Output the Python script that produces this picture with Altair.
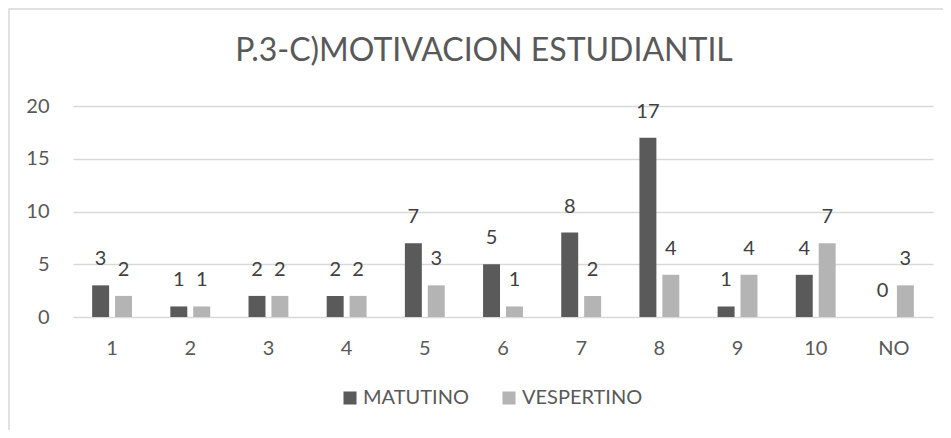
import altair as alt
import pandas as pd

categories = ["1", "2", "3", "4", "5", "6", "7", "8", "9", "10", "NO"]
matutino = [3, 1, 2, 2, 7, 5, 8, 17, 1, 4, 0]
vespertino = [2, 1, 2, 2, 3, 1, 2, 4, 4, 7, 3]
series = ["MATUTINO", "VESPERTINO"]
colors = ["#5a5a5a", "#b4b4b4"]
title_text = "P.3-C)MOTIVACION ESTUDIANTIL"

rows = []
for c, m, v in zip(categories, matutino, vespertino):
    rows.append({"cat": c, "serie": series[0], "val": m})
    rows.append({"cat": c, "serie": series[1], "val": v})
df = pd.DataFrame(rows)

FONT = "Lato"
FW = "normal"

xenc = alt.X("cat:N", sort=categories, title=None,
             scale=alt.Scale(paddingInner=0.49, paddingOuter=0.245),
             axis=alt.Axis(labelAngle=0, domain=False, ticks=False, labelPadding=21,
                           labelFontSize=20, labelColor="#595959", labelFont=FONT,
                           labelFontWeight=FW))
xoff = alt.XOffset("serie:N", sort=series, scale=alt.Scale(paddingInner=0.26, paddingOuter=0))
yenc = alt.Y("val:Q", title=None,
             scale=alt.Scale(domain=[0, 20], nice=False),
             axis=alt.Axis(values=[0, 5, 10, 15, 20], domain=False, ticks=False,
                           labelPadding=24, labelFontSize=20, labelColor="#595959",
                           labelFont=FONT, labelFontWeight=FW,
                           gridColor="#d9d9d9", gridWidth=1.5))

base = alt.Chart(df)

bars = base.mark_bar().encode(
    x=xenc, xOffset=xoff, y=yenc,
    color=alt.Color("serie:N", sort=series, title=None,
                    scale=alt.Scale(domain=series, range=colors),
                    legend=alt.Legend(orient="none", legendX=267, legendY=282,
                                      direction="horizontal", symbolType="square",
                                      symbolSize=170, symbolStrokeWidth=0,
                                      labelFontSize=20, labelColor="#595959",
                                      labelFont=FONT, labelFontWeight=FW,
                                      columnPadding=30, labelOffset=3)),
)

labels = base.mark_text(dy=-26, baseline="middle", fontSize=20, color="#404040",
                        font=FONT, fontWeight=FW).encode(
    x=alt.X("cat:N", sort=categories), xOffset=alt.XOffset("serie:N", sort=series), y="val:Q",
    text="val:Q",
)

frame = alt.Chart(pd.DataFrame({"a": [0]})).mark_rect(
    fill=None, stroke="#d9d9d9", strokeWidth=1.5, clip=False
).encode(
    x=alt.value(-64), x2=alt.value(900), y=alt.value(-97), y2=alt.value(400)
)

chart = alt.layer(frame, bars, labels).properties(
    width=860, height=211,
    title=alt.TitleParams(title_text, frame="group", anchor="middle", dx=-19,
                          fontSize=32, font=FONT, fontWeight=FW,
                          color="#595959", offset=-60),
    autosize=alt.AutoSizeParams(type="none"),
    padding={"left": 65, "top": 98, "right": 10, "bottom": 113},
).configure_view(stroke=None)

chart.save("out.html", embed_options={"renderer": "svg", "actions": False})
